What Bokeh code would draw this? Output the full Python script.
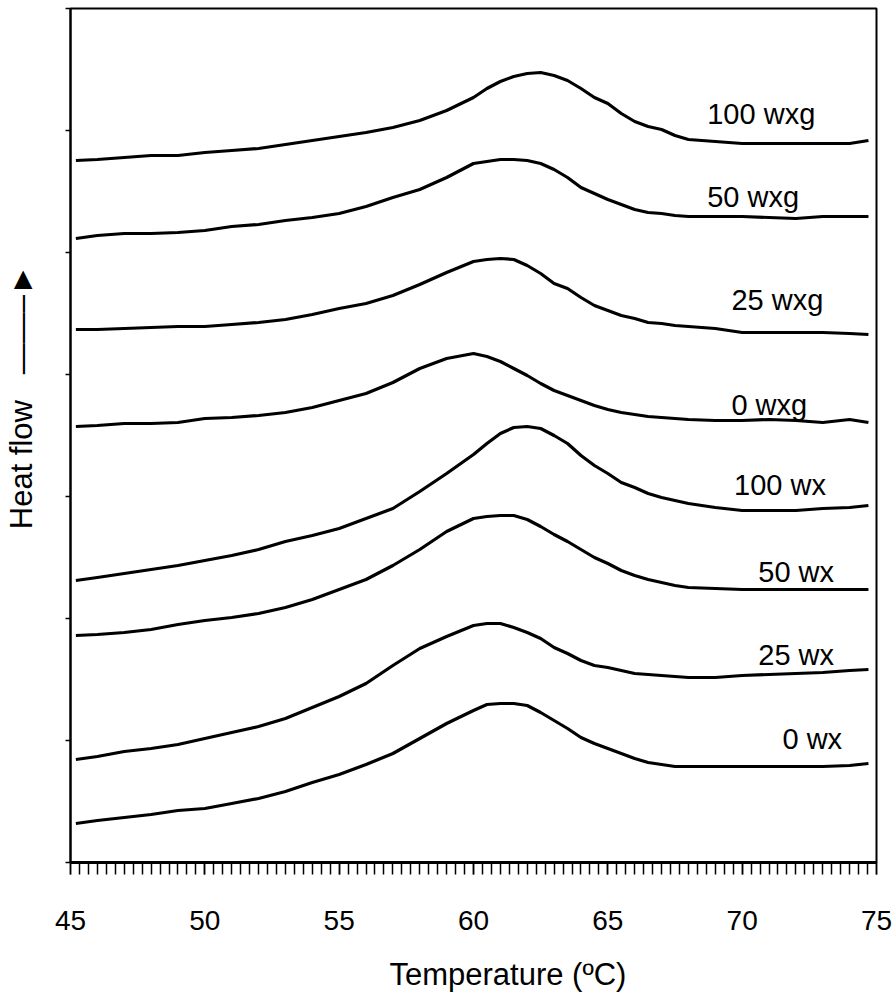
from bokeh.plotting import figure
from bokeh.models import Range1d, FixedTicker, ColumnDataSource
from bokeh.core.properties import value
from bokeh.embed import file_html
from bokeh.resources import INLINE

# DSC heating scans, temperature in degC
temperature = [45.2, 46, 47, 48, 49, 50, 51, 52, 53, 54, 55, 56, 57, 58, 59, 60, 60.5, 61, 61.5,
               62, 62.5, 63, 63.5, 64, 64.5, 65, 65.5, 66, 66.5, 67, 67.5, 68, 69, 70, 71, 72,
               73, 74, 74.7]

# Heat flow (arbitrary units, curves offset vertically)
wxg_100 = [702, 703, 705, 707, 707, 710, 712, 714, 718, 722, 726, 730, 735, 742, 752, 765, 774, 781, 786,
           789, 790, 787, 782, 774, 765, 759, 749, 741, 736, 733, 727, 723, 721, 719, 719, 719,
           719, 719, 722]
wxg_50 = [624, 627, 629, 629, 630, 632, 636, 638, 642, 645, 649, 656, 665, 673, 685, 699, 701, 703, 703,
          702, 699, 693, 685, 675, 669, 663, 658, 653, 650, 649, 647, 646, 646, 646, 645, 644,
          646, 646, 646]
wxg_25 = [533, 533, 534, 535, 536, 536, 538, 540, 543, 548, 554, 559, 567, 578, 590, 601, 603, 604, 603,
          597, 589, 579, 574, 565, 557, 552, 547, 544, 540, 539, 537, 536, 534, 530, 530, 530,
          530, 529, 528]
wxg_0 = [436, 437, 439, 439, 440, 444, 445, 447, 450, 455, 462, 469, 480, 494, 504, 509, 506, 501, 494,
         487, 479, 472, 467, 462, 457, 453, 450, 448, 446, 445, 444, 443, 442, 442, 443, 442,
         440, 443, 440]
wx_100 = [282, 285, 289, 293, 297, 302, 307, 313, 321, 327, 334, 344, 354, 371, 389, 408, 419, 429, 435,
          436, 434, 427, 419, 407, 397, 389, 380, 375, 369, 365, 362, 359, 355, 352, 352, 352,
          354, 355, 357]
wx_50 = [227, 228, 230, 233, 238, 242, 245, 249, 255, 263, 273, 283, 297, 313, 331, 344, 346, 347, 347,
         343, 336, 328, 321, 313, 305, 299, 292, 287, 283, 280, 277, 275, 274, 273, 273, 273,
         273, 273, 273]
wx_25 = [103, 106, 111, 114, 118, 124, 130, 136, 144, 155, 166, 179, 197, 214, 226, 237, 239, 239, 235,
         230, 224, 215, 209, 202, 197, 195, 192, 189, 188, 187, 186, 185, 185, 187, 188, 189,
         190, 192, 193]
wx_0 = [39, 42, 45, 48, 52, 54, 59, 64, 71, 80, 88, 98, 109, 124, 139, 152, 158, 159, 159,
        157, 150, 142, 134, 125, 119, 114, 109, 104, 100, 98, 96, 96, 96, 96, 96, 96,
        96, 97, 99]

series = [wxg_100, wxg_50, wxg_25, wxg_0, wx_100, wx_50, wx_25, wx_0]
series_names = ["100 wxg", "50 wxg", "25 wxg", "0 wxg", "100 wx", "50 wx", "25 wx", "0 wx"]

# where each curve's name is written (temperature, heat flow)
label_temp = [68.7, 68.7, 69.6, 69.6, 69.7, 70.6, 70.6, 71.5]
label_flow = [749, 666, 563, 458, 378, 291, 208, 124]

x_major = [45, 50, 55, 60, 65, 70, 75]
y_ticks = [0, 122, 244, 366, 488, 610, 732, 854]

FONT = "Liberation Sans"
NBSP = "\u00a0"

p = figure(width=893, height=998,
           x_range=Range1d(45, 75), y_range=Range1d(0, 854),
           min_border_left=70, min_border_right=17, min_border_top=8, min_border_bottom=136,
           toolbar_location=None, output_backend="svg", background_fill_color="white",
           border_fill_color="white")

p.xgrid.visible = False
p.ygrid.visible = False
p.outline_line_color = "black"
p.outline_line_width = 2

for ys in series:
    p.line(temperature, ys, line_color="black", line_width=3.2, line_join="round")

src = ColumnDataSource(dict(x=label_temp, y=label_flow, t=series_names))
p.text(x="x", y="y", text="t", source=src, text_font=value(FONT), text_font_size="29px",
       text_color="black", text_align="left", text_baseline="alphabetic")

# x axis: labelled every 5 degC, ticks every 1/3 degC
xminor = [45 + i / 3 for i in range(91)]
p.xaxis.ticker = FixedTicker(ticks=x_major, minor_ticks=xminor)
p.xaxis.axis_line_width = 3
p.xaxis.axis_line_color = "black"
p.xaxis.major_tick_in = 0
p.xaxis.major_tick_out = 12
p.xaxis.minor_tick_in = 0
p.xaxis.minor_tick_out = 12
p.xaxis.major_tick_line_width = 1.5
p.xaxis.minor_tick_line_width = 1.5
p.xaxis.major_tick_line_color = "black"
p.xaxis.minor_tick_line_color = "black"
p.xaxis.major_label_text_font = FONT
p.xaxis.major_label_text_font_size = "28px"
p.xaxis.major_label_text_color = "black"
p.xaxis.major_label_standoff = 36
p.xaxis.axis_label = NBSP * 8 + "Temperature (ºC)"
p.xaxis.axis_label_text_font = FONT
p.xaxis.axis_label_text_font_size = "31px"
p.xaxis.axis_label_text_font_style = "normal"
p.xaxis.axis_label_text_color = "black"
p.xaxis.axis_label_standoff = 24

# y axis: unlabelled ticks, name with an upward arrow
p.yaxis.ticker = FixedTicker(ticks=y_ticks, minor_ticks=[])
p.yaxis.axis_line_width = 2
p.yaxis.axis_line_color = "black"
p.yaxis.major_tick_in = 0
p.yaxis.major_tick_out = 5
p.yaxis.major_tick_line_width = 1.5
p.yaxis.major_tick_line_color = "black"
p.yaxis.major_label_text_font_size = "1px"
p.yaxis.major_label_text_color = None
p.yaxis.major_label_standoff = 0
p.yaxis.axis_label = NBSP * 9 + "Heat flow" + NBSP * 3 + "\u2014\u2014\u2013\u25ba"
p.yaxis.axis_label_text_font = FONT
p.yaxis.axis_label_text_font_size = "31px"
p.yaxis.axis_label_text_font_style = "normal"
p.yaxis.axis_label_text_color = "black"
p.yaxis.axis_label_standoff = 27

open("out.html", "w").write(file_html(p, INLINE))
